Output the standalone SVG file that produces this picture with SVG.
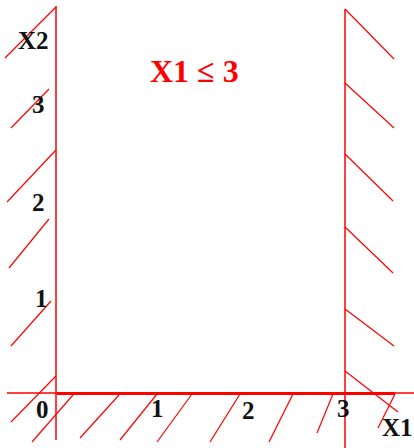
<svg xmlns="http://www.w3.org/2000/svg" width="414" height="448" viewBox="0 0 414 448">
<style>
.ax{stroke:#ff0000;stroke-width:1.5;fill:none}
.h{stroke:#ff0000;stroke-width:1.2;fill:none}
.lb{font-family:"Liberation Serif","Times New Roman",serif;font-weight:bold;font-size:25px;fill:#111}
.t{font-family:"Liberation Serif","Times New Roman",serif;font-weight:bold;font-size:32px;fill:#ff0000}
</style>
<rect width="414" height="448" fill="#fff"/>
<g id="hatches-left">
<line class="h" x1="56" y1="7" x2="5" y2="58"/>
<line class="h" x1="49" y1="89" x2="11" y2="128"/>
<line class="h" x1="56" y1="150" x2="7" y2="202"/>
<line class="h" x1="49" y1="219" x2="9" y2="268"/>
<line class="h" x1="51" y1="301" x2="11" y2="346"/>
<line class="h" x1="56" y1="376" x2="11" y2="422"/>
</g>
<g id="hatches-bottom">
<line class="h" x1="73" y1="395" x2="32" y2="442"/>
<line class="h" x1="119" y1="395" x2="80" y2="438"/>
<line class="h" x1="157" y1="394" x2="120" y2="440"/>
<line class="h" x1="192" y1="394" x2="157" y2="442"/>
<line class="h" x1="240" y1="394" x2="210" y2="442"/>
<line class="h" x1="293" y1="394" x2="269" y2="442"/>
<line class="h" x1="333" y1="394" x2="317" y2="433"/>
<line class="h" x1="395" y1="394" x2="378" y2="428"/>
</g>
<g id="hatches-right">
<line class="h" x1="345" y1="9" x2="394" y2="59"/>
<line class="h" x1="345" y1="83" x2="394" y2="128"/>
<line class="h" x1="345" y1="154" x2="393" y2="201"/>
<line class="h" x1="345" y1="227" x2="393" y2="273"/>
<line class="h" x1="345" y1="309" x2="394" y2="346"/>
<line class="h" x1="345" y1="371" x2="398" y2="412"/>
</g>
<g id="axes">
<line class="ax" x1="56" y1="6" x2="56" y2="440"/>
<line class="ax" x1="345" y1="9" x2="345" y2="448"/>
<line class="ax" x1="7" y1="393" x2="414" y2="393"/>
<line stroke="#ff0000" stroke-width="3" x1="57" y1="393.5" x2="395" y2="393.5"/>
</g>
<g id="labels">
<text class="lb" x="18" y="49">X2</text>
<text class="lb" x="32" y="113">3</text>
<text class="lb" x="32" y="211">2</text>
<text class="lb" x="35" y="307">1</text>
<text class="lb" x="36" y="418">0</text>
<text class="lb" x="151" y="417">1</text>
<text class="lb" x="242" y="419">2</text>
<text class="lb" x="337" y="417">3</text>
<text class="lb" x="382" y="436">X1</text>
</g>
<g id="title">
<text class="t" x="150" y="82">X1 ≤ 3</text>
</g>
</svg>
